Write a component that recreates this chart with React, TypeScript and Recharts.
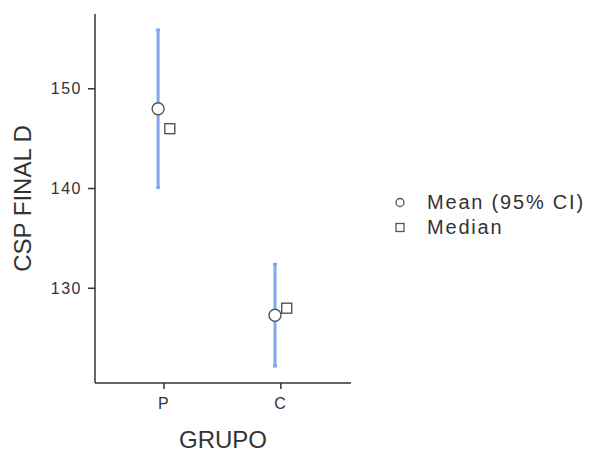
import { ErrorBar, Scatter, ScatterChart, XAxis, YAxis } from "recharts"

const groups = ["P", "C"]
const means = [148.0, 127.3]
const ciLower = [140.1, 122.2]
const ciUpper = [155.9, 132.4]
const medians = [146.0, 128.0]
const yTicks = [130, 140, 150]

const DODGE = 0.05
const AXIS = "#333"
const CI_BLUE = "#84a8ee"
const FONT = "'Liberation Sans', Arial, sans-serif"

const meanData = groups.map((g, i) => ({
  group: g,
  x: i - DODGE,
  y: means[i],
  ci: [means[i] - ciLower[i], ciUpper[i] - means[i]],
}))

const medianData = groups.map((g, i) => ({
  group: g,
  x: i + DODGE,
  y: medians[i],
}))

const MeanDot = (p: any) => (
  <circle cx={p.cx} cy={p.cy} r={6} fill="#fff" stroke="#555" strokeWidth={1.4} />
)

const MedianBox = (p: any) => (
  <rect x={p.cx - 5} y={p.cy - 5} width={10} height={10} fill="#fff" stroke="#555" strokeWidth={1.4} />
)

export default function App() {
  return (
    <div style={{ position: "absolute", left: 0, top: 0, width: 590, height: 454, background: "#fff", fontFamily: FONT }}>
      <ScatterChart width={590} height={454} margin={{ top: 14, right: 239, bottom: 0, left: 0 }}>
        <XAxis
          type="number"
          dataKey="x"
          domain={[-0.59, 1.6]}
          ticks={[0, 1]}
          tickFormatter={(v) => groups[v] ?? ""}
          allowDataOverflow
          height={71}
          stroke={AXIS}
          strokeWidth={1.5}
          tickSize={6}
          tickMargin={9}
          tick={{ fill: "#333", fontSize: 16, letterSpacing: 1.5, fontFamily: FONT }}
          label={{ value: "GRUPO", position: "insideBottom", offset: 6, fill: "#333", fontSize: 24, fontFamily: FONT }}
        />
        <YAxis
          type="number"
          dataKey="y"
          domain={[120.5, 157.5]}
          ticks={yTicks}
          allowDataOverflow
          width={95}
          stroke={AXIS}
          strokeWidth={1.5}
          tickSize={7}
          tickMargin={6}
          tick={{ fill: "#333", fontSize: 16, letterSpacing: 1.5, fontFamily: FONT }}
          label={{
            value: "CSP FINAL D",
            angle: -90,
            position: "insideLeft",
            offset: 22,
            fill: "#333",
            fontSize: 24,
            fontFamily: FONT,
            style: { textAnchor: "middle" },
          }}
        />
        <Scatter data={meanData} shape={MeanDot} isAnimationActive={false}>
          <ErrorBar dataKey="ci" direction="y" width={2} stroke={CI_BLUE} strokeWidth={3} />
        </Scatter>
        <Scatter data={medianData} shape={MedianBox} isAnimationActive={false} />
      </ScatterChart>
      <div style={{ position: "absolute", left: 394, top: 190, color: "#333", fontSize: 20, letterSpacing: 1.8, lineHeight: "25px" }}>
        <div style={{ display: "flex", alignItems: "center" }}>
          <svg width={33} height={25}>
            <circle cx={6} cy={12.5} r={4} fill="#fff" stroke="#555" strokeWidth={1.3} />
          </svg>
          <span>Mean (95% CI)</span>
        </div>
        <div style={{ display: "flex", alignItems: "center" }}>
          <svg width={33} height={25}>
            <rect x={2} y={8.5} width={8} height={8} fill="#fff" stroke="#555" strokeWidth={1.3} />
          </svg>
          <span>Median</span>
        </div>
      </div>
    </div>
  )
}
